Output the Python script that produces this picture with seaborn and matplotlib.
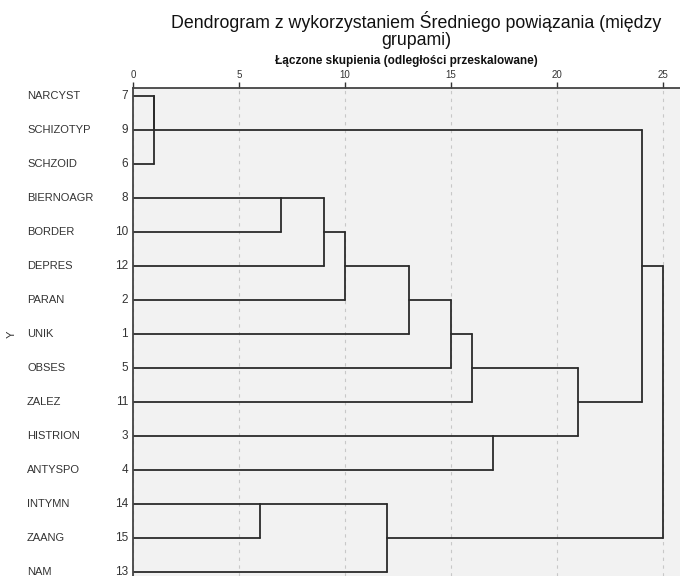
import numpy as np
import pandas as pd
import matplotlib
matplotlib.use("Agg")
import matplotlib.pyplot as plt
import matplotlib.transforms as mtransforms
import seaborn as sns

# etykiety przypadkow w kolejnosci na dendrogramie
labels = ["NARCYST", "SCHIZOTYP", "SCHZOID", "BIERNOAGR", "BORDER", "DEPRES", "PARAN",
          "UNIK", "OBSES", "ZALEZ", "HISTRION", "ANTYSPO", "INTYMN", "ZAANG", "NAM"]
case_ids = [7, 9, 6, 8, 10, 12, 2, 1, 5, 11, 3, 4, 14, 15, 13]

# laczenia: (a, b) -> nowy klaster o numerze 15, 16, ...
merge_a = [0, 15, 3, 17, 18, 19, 20, 21, 10, 22, 12, 25, 16, 27]
merge_b = [1, 2, 4, 5, 6, 7, 8, 9, 11, 23, 13, 14, 24, 26]
merge_dist = [1, 1, 7, 9, 10, 13, 15, 16, 17, 21, 6, 12, 24, 25]

xticks = [0, 5, 10, 15, 20, 25]

# %%
# budowa odcinkow dendrogramu
n = len(labels)
node_x = {i: 0.0 for i in range(n)}
node_row = {i: i for i in range(n)}
segs = []
for k, (a, b, d) in enumerate(zip(merge_a, merge_b, merge_dist)):
    ra, rb = node_row[a], node_row[b]
    segs.append([(node_x[a], ra), (d, ra)])
    segs.append([(node_x[b], rb), (d, rb)])
    segs.append([(d, ra), (d, rb)])
    new = n + k
    node_x[new] = d
    node_row[new] = (ra + rb) // 2

rows = []
for s, seg in enumerate(segs):
    for (x, y) in seg:
        rows.append({"seg": s, "x": x, "y": y})
df = pd.DataFrame(rows)

# %%
sns.set_theme(style="white")
plt.rcParams["font.family"] = ["Liberation Sans", "DejaVu Sans"]

fig = plt.figure(figsize=(6.8, 5.76), dpi=100)
ax = fig.add_axes([133 / 680, 0, 547 / 680, 1 - 88 / 576])
ax.set_facecolor("#f2f2f2")

sns.lineplot(data=df, x="x", y="y", units="seg", estimator=None, sort=False,
             color="#2b2b2b", linewidth=1.3, ax=ax)

ax.set_xlim(0, 547 / 21.2)
ax.set_ylim((576 - 96) / 34, -8 / 34)

ax.xaxis.tick_top()
ax.set_xticks(xticks)
ax.set_xticklabels([str(t) for t in xticks], fontsize=7, color="#333333")
ax.tick_params(axis="x", direction="out", length=4, width=1, color="#333333", pad=2)
ax.xaxis.set_label_position("top")
ax.set_xlabel("Łączone skupienia (odległości przeskalowane)", fontsize=8.5,
              fontweight="bold", labelpad=4, color="#111111")
ax.set_ylabel("")
ax.set_yticks([])
ax.grid(axis="x", linestyle=(0, (3, 4)), color="#c8c8c8", linewidth=0.8)
ax.set_axisbelow(True)

for side in ["right", "bottom"]:
    ax.spines[side].set_visible(False)
for side in ["top", "left"]:
    ax.spines[side].set_color("#444444")
    ax.spines[side].set_linewidth(1.3)

trans = mtransforms.blended_transform_factory(ax.transAxes, ax.transData)
for i, (name, cid) in enumerate(zip(labels, case_ids)):
    ax.text(-106 / 547, i, name, transform=trans, ha="left", va="center",
            fontsize=8, color="#333333")
    ax.text(-5 / 547, i, str(cid), transform=trans, ha="right", va="center",
            fontsize=8.5, color="#333333")
ax.text(-121 / 547, 7, "Y", transform=trans, ha="center", va="center",
        rotation=90, fontsize=8, color="#333333")

fig.text(416 / 680, 1 - 30 / 576,
         "Dendrogram z wykorzystaniem Średniego powiązania (między\ngrupami)",
         ha="center", va="center", fontsize=12.8, color="#111111", linespacing=1.05)

fig.savefig("out.png", dpi=100)
